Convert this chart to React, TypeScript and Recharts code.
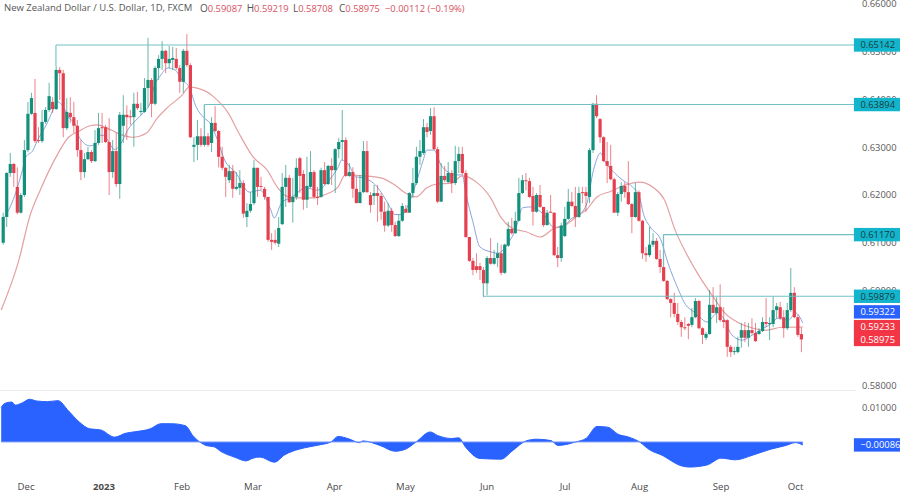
import { ComposedChart, Bar, Line, Area, XAxis, YAxis, ReferenceLine } from 'recharts';

const opens = [
  .6100,.6154,.6246,.6265,.6217,.6163,.6200,.6294,.6370,.6372,
  .6315,.6313,.6353,.6378,.6395,.6380,.6462,.6455,.6340,.6372,
  .6363,.6345,.6294,.6248,.6275,.6290,.6271,.6309,.6342,.6342,
  .6311,.6248,.6292,.6223,.6345,.6368,.6365,.6363,.6391,.6374,
  .6374,.6424,.6441,.6391,.6466,.6485,.6502,.6476,.6483,.6485,
  .6466,.6437,.6502,.6472,.6301,.6305,.6323,.6305,.6323,.6309,
  .6351,.6334,.6280,.6257,.6231,.6250,.6213,.6215,.6225,.6154,
  .6167,.6183,.6257,.6219,.6213,.6196,.6106,.6106,.6098,.6139,
  .6217,.6236,.6185,.6196,.6277,.6244,.6190,.6217,.6248,.6196,
  .6196,.6252,.6223,.6261,.6252,.6296,.6311,.6315,.6240,.6248,
  .6213,.6183,.6206,.6292,.6200,.6198,.6204,.6198,.6165,.6136,
  .6167,.6137,.6114,.6146,.6171,.6163,.6204,.6225,.6280,.6288,
  .6342,.6334,.6365,.6296,.6186,.6240,.6227,.6246,.6225,.6271,
  .6286,.6246,.6112,.6062,.6051,.6051,.6043,.6015,.6068,.6056,
  .6068,.6078,.6037,.6094,.6129,.6120,.6146,.6204,.6231,.6229,
  .6198,.6165,.6200,.6175,.6137,.6165,.6163,.6074,.6068,.6114,
  .6150,.6186,.6177,.6154,.6206,.6206,.6196,.6294,.6391,.6359,
  .6321,.6271,.6261,.6233,.6163,.6202,.6219,.6206,.6181,.6154,
  .6206,.6146,.6078,.6074,.6096,.6104,.6066,.6049,.6020,.5982,
  .5974,.5951,.5934,.5923,.5930,.5928,.5944,.5978,.5921,.5901,
  .5909,.5970,.5953,.5965,.5938,.5938,.5882,.5871,.5871,.5901,
  .5917,.5901,.5917,.5911,.5909,.5915,.5934,.5930,.5930,.5959,
  .5965,.5944,.5921,.5959,.5995,.5944,.59087,
];

const highs = [
  .6163,.6248,.6288,.6267,.6258,.6204,.6315,.6395,.6414,.6443,
  .6342,.6378,.6384,.6435,.6405,.6470,.6468,.6462,.6403,.6405,
  .6395,.6357,.6315,.6288,.6301,.6294,.6336,.6372,.6372,.6347,
  .6361,.6315,.6330,.6374,.6409,.6388,.6378,.6414,.6416,.6393,
  .6445,.6529,.6445,.6470,.6493,.6522,.6504,.6512,.6510,.6508,
  .6472,.6506,.6537,.6476,.6321,.6357,.6340,.6388,.6330,.6363,
  .6386,.6336,.6301,.6258,.6263,.6263,.6248,.6252,.6231,.6183,
  .6206,.6273,.6257,.6238,.6217,.6196,.6120,.6127,.6154,.6246,
  .6263,.6242,.6236,.6277,.6280,.6252,.6280,.6292,.6252,.6217,
  .6257,.6269,.6263,.6277,.6298,.6319,.6378,.6321,.6267,.6258,
  .6238,.6242,.6313,.6313,.6206,.6221,.6221,.6204,.6186,.6183,
  .6173,.6144,.6159,.6183,.6179,.6206,.6257,.6301,.6315,.6359,
  .6351,.6382,.6384,.6301,.6267,.6261,.6269,.6252,.6303,.6301,
  .6301,.6252,.6112,.6068,.6078,.6058,.6049,.6072,.6110,.6085,
  .6100,.6096,.6098,.6144,.6152,.6165,.6236,.6242,.6246,.6236,
  .6217,.6204,.6221,.6175,.6169,.6200,.6163,.6091,.6142,.6175,
  .6213,.6206,.6217,.6217,.6217,.6217,.6298,.6393,.6409,.6361,
  .6323,.6311,.6305,.6236,.6206,.6227,.6227,.6271,.6183,.6225,
  .6210,.6148,.6091,.6133,.6120,.6110,.6085,.6117,.6022,.5984,
  .5995,.5974,.5938,.5944,.5932,.5963,.5984,.5980,.5923,.5913,
  .6001,.6007,.5986,.6013,.5965,.5940,.5886,.5882,.5903,.5932,
  .5934,.5932,.5942,.5932,.5921,.5944,.5984,.5944,.5988,.5974,
  .5976,.5959,.5974,.6047,.6007,.5949,.59219,
];

const lows = [
  .6096,.6133,.6238,.6217,.6159,.6161,.6196,.6290,.6368,.6309,
  .6309,.6309,.6349,.6374,.6372,.6378,.6399,.6321,.6336,.6351,
  .6330,.6280,.6231,.6236,.6273,.6267,.6269,.6305,.6309,.6309,
  .6200,.6236,.6217,.6192,.6309,.6315,.6347,.6301,.6378,.6368,
  .6372,.6384,.6363,.6388,.6441,.6462,.6455,.6466,.6462,.6462,
  .6414,.6414,.6468,.6319,.6269,.6273,.6301,.6301,.6301,.6290,
  .6332,.6258,.6252,.6196,.6225,.6194,.6210,.6200,.6152,.6133,
  .6163,.6179,.6196,.6210,.6190,.6102,.6085,.6096,.6091,.6137,
  .6175,.6183,.6142,.6190,.6204,.6169,.6173,.6215,.6194,.6179,
  .6194,.6221,.6221,.6221,.6204,.6277,.6273,.6238,.6238,.6194,
  .6183,.6183,.6204,.6204,.6163,.6179,.6144,.6148,.6123,.6133,
  .6123,.6112,.6112,.6144,.6163,.6163,.6194,.6221,.6263,.6284,
  .6321,.6326,.6294,.6183,.6186,.6227,.6225,.6204,.6221,.6246,
  .6242,.6110,.6060,.6032,.6037,.6022,.5986,.5990,.6054,.6054,
  .6049,.6032,.6035,.6091,.6117,.6119,.6144,.6202,.6210,.6194,
  .6136,.6163,.6173,.6133,.6136,.6163,.6072,.6049,.6060,.6112,
  .6148,.6175,.6133,.6152,.6183,.6165,.6183,.6288,.6361,.6309,
  .6269,.6225,.6231,.6163,.6156,.6186,.6194,.6179,.6120,.6152,
  .6144,.6066,.6060,.6070,.6091,.6064,.6037,.6018,.5980,.5944,
  .5944,.5928,.5903,.5917,.5898,.5923,.5942,.5919,.5888,.5896,
  .5907,.5953,.5932,.5934,.5921,.5861,.5861,.5865,.5869,.5880,
  .5892,.5882,.5907,.5892,.5907,.5913,.5923,.5896,.5923,.5942,
  .5938,.5901,.5917,.5955,.5942,.5903,.58708,
];

const closes = [
  .6154,.6246,.6265,.6246,.6163,.6200,.6294,.6370,.6403,.6313,
  .6313,.6353,.6378,.6407,.6380,.6462,.6455,.6340,.6374,.6363,
  .6345,.6294,.6248,.6275,.6290,.6271,.6309,.6340,.6340,.6311,
  .6248,.6292,.6223,.6368,.6368,.6363,.6363,.6391,.6382,.6376,
  .6424,.6441,.6391,.6466,.6485,.6502,.6476,.6485,.6487,.6466,
  .6437,.6502,.6472,.6321,.6305,.6323,.6305,.6323,.6305,.6351,
  .6334,.6280,.6257,.6238,.6250,.6213,.6217,.6225,.6161,.6167,
  .6181,.6257,.6217,.6217,.6196,.6106,.6102,.6100,.6131,.6217,
  .6236,.6185,.6196,.6257,.6240,.6190,.6219,.6248,.6196,.6194,
  .6252,.6223,.6261,.6252,.6296,.6311,.6315,.6240,.6248,.6213,
  .6183,.6206,.6292,.6206,.6179,.6204,.6198,.6165,.6136,.6167,
  .6137,.6114,.6146,.6177,.6163,.6204,.6225,.6280,.6292,.6342,
  .6332,.6365,.6296,.6186,.6240,.6231,.6246,.6225,.6271,.6286,
  .6246,.6112,.6062,.6043,.6043,.6043,.6015,.6068,.6056,.6068,
  .6078,.6037,.6096,.6129,.6120,.6146,.6204,.6231,.6229,.6196,
  .6165,.6200,.6175,.6137,.6163,.6163,.6074,.6068,.6136,.6150,
  .6186,.6177,.6154,.6204,.6204,.6198,.6294,.6391,.6365,.6321,
  .6271,.6261,.6233,.6163,.6202,.6219,.6206,.6181,.6154,.6206,
  .6146,.6078,.6074,.6096,.6104,.6066,.6049,.6020,.5982,.5974,
  .5951,.5934,.5923,.5921,.5926,.5944,.5978,.5921,.5907,.5909,
  .5970,.5953,.5965,.5938,.5934,.5882,.5871,.5873,.5882,.5917,
  .5901,.5917,.5911,.5894,.5915,.5934,.5930,.5932,.5959,.5967,
  .5942,.5921,.5959,.5995,.5944,.5907,.58975,
];

// moving averages and oscillator, read at [bar index, value] where the curve bends
const fastMa = [
  [1,.6154],[3,.6183],[6,.6252],[7,.6280],[9,.6294],[10,.6311],[13,.6351],[15,.6384],[16,.6395],[18,.6378],
  [19,.6363],[21,.6347],[22,.6321],[25,.6303],[27,.6309],[28,.6325],[29,.6325],[30,.6315],[32,.6295],[33,.6300],
  [36,.6340],[40,.6372],[42,.6393],[43,.6424],[45,.6451],[47,.6466],[49,.6462],[51,.6441],[53,.6426],[55,.6384],
  [57,.6363],[59,.6349],[61,.6315],[63,.6273],[66,.6248],[70,.6206],[73,.6210],[76,.6169],[77,.6152],[79,.6183],
  [82,.6196],[86,.6215],[89,.6210],[93,.6236],[95,.6258],[96,.6273],[98,.6263],[100,.6238],[102,.6236],[106,.6217],
  [109,.6183],[111,.6159],[113,.6159],[115,.6183],[117,.6225],[119,.6273],[120,.6294],[122,.6294],[124,.6263],[126,.6248],
  [128,.6242],[130,.6242],[131,.6204],[133,.6144],[135,.6091],[138,.6081],[140,.6078],[143,.6100],[145,.6127],[147,.6173],
  [149,.6175],[153,.6159],[156,.6131],[159,.6137],[161,.6152],[162,.6154],[165,.6179],[167,.6252],[169,.6288],[170,.6273],
  [173,.6246],[176,.6227],[178,.6217],[180,.6196],[181,.6163],[183,.6133],[186,.6106],[188,.6058],[191,.6001],[193,.5970],
  [195,.5957],[197,.5944],[199,.5934],[202,.5953],[204,.5938],[206,.5907],[209,.5896],[211,.5903],[214,.5917],[217,.5930],
  [219,.5942],[222,.5938],[224,.5953],[226,.59322],
];

const slowMa = [
  [0,.5959],[5,.6064],[8,.6154],[11,.6210],[15,.6273],[19,.6321],[22,.6334],[25,.6345],[27,.6347],[31,.6336],
  [34,.6326],[37,.6321],[41,.6330],[44,.6361],[47,.6384],[51,.6409],[53,.6426],[58,.6416],[60,.6405],[64,.6372],
  [67,.6330],[71,.6280],[75,.6252],[78,.6215],[81,.6196],[84,.6194],[88,.6194],[91,.6200],[95,.6217],[97,.6242],
  [102,.6240],[107,.6236],[111,.6221],[114,.6204],[117,.6196],[120,.6215],[123,.6223],[127,.6225],[130,.6240],[134,.6227],
  [138,.6194],[141,.6152],[144,.6131],[148,.6123],[152,.6112],[156,.6131],[159,.6137],[163,.6159],[165,.6169],[168,.6196],
  [172,.6208],[176,.6221],[180,.6227],[184,.6215],[187,.6190],[190,.6127],[193,.6080],[197,.6028],[201,.5984],[204,.5953],
  [208,.5932],[212,.5921],[216,.5917],[220,.5923],[226,.59233],
];

const oscillator = [
  [0,.0100],[1,.0112],[3,.0116],[4,.0107],[6,.0114],[8,.0124],[10,.0119],[13,.0117],[16,.0120],[19,.0090],
  [22,.0058],[25,.0038],[28,.0035],[32,.0014],[35,.0025],[38,.0030],[42,.0038],[45,.0053],[48,.0053],[52,.0047],
  [54,.0019],[56,0],[58,-.0011],[60,-.0014],[62,-.0028],[66,-.0045],[69,-.0055],[71,-.0047],[73,-.0044],[77,-.0059],
  [80,-.0037],[84,-.0021],[87,-.0014],[90,-.0008],[93,0],[95,.0016],[98,.0009],[101,-.0002],[102,.0003],[107,-.0011],
  [111,-.0027],[114,-.0021],[117,0],[121,.0029],[123,.0019],[127,.0010],[129,.0012],[131,-.0016],[135,-.0048],[141,-.0050],
  [144,-.0027],[148,.0003],[151,.0008],[155,.0004],[157,-.0010],[162,0],[165,.0011],[168,.0045],[171,.0043],[174,.0022],
  [177,.0014],[180,0],[183,-.0024],[186,-.0037],[192,-.0070],[194,-.0073],[199,-.0067],[203,-.0047],[207,-.0052],[212,-.0038],
  [217,-.0021],[221,-.0011],[224,-.0002],[226,-.00086],
];

const priceTicks = [0.58, 0.59, 0.6, 0.61, 0.62, 0.63, 0.64, 0.65, 0.66];
const oscTicks = [0.01];
const monthBars = [7, 29, 51, 71, 94, 114, 137, 159, 180, 203, 224];
const monthLabels = ['Dec', '2023', 'Feb', 'Mar', 'Apr', 'May', 'Jun', 'Jul', 'Aug', 'Sep', 'Oct'];

// horizontal levels: price, bar the ray starts at, price where its stem ends
const rayLevels = [0.65142, 0.63894, 0.6117, 0.59879];
const rayBars = [15, 57, 187, 136];
const rayStems = [0.647, 0.6323, 0.6049, 0.6015];

const legendParts = ['O', 'H', 'L', 'C', ''];
const legendValues = ['0.59087', '0.59219', '0.58708', '0.58975', '−0.00112 (−0.19%)'];
const legendLefts = [200, 246.7, 293, 339, 385];

const TOTAL_BARS = 242;
const PRICE_DOMAIN = [0.57916, 0.66084];
const FONT = '"Open Sans", sans-serif';
const UP = '#12907c';
const DOWN = '#e4404f';
const TEAL = '#72c0c5';

const table = Array.from({ length: TOTAL_BARS }, (_, i) => ({
  i,
  open: opens[i],
  high: highs[i],
  low: lows[i],
  close: closes[i],
  fast: null as number | null,
  slow: null as number | null,
  osc: null as number | null,
}));
fastMa.forEach(([i, v]) => { table[i].fast = v; });
slowMa.forEach(([i, v]) => { table[i].slow = v; });
oscillator.forEach(([i, v]) => { table[i].osc = v; });

function Candle(props: any) {
  const { x, y, width, height, payload } = props;
  if (payload.open === undefined) return null;
  const color = payload.close >= payload.open ? UP : DOWN;
  const top = Math.min(y, y + height);
  const span = Math.abs(height);
  const perUnit = span / (payload.high - payload.low);
  const bodyTop = top + (payload.high - Math.max(payload.open, payload.close)) * perUnit;
  const bodyH = Math.abs(payload.open - payload.close) * perUnit;
  const cx = x + width / 2;
  return (
    <g>
      <line x1={cx} x2={cx} y1={top} y2={top + span} stroke={color} strokeOpacity={0.65} strokeWidth={1} />
      <rect x={cx - 1.6} y={bodyTop} width={3.2} height={Math.max(bodyH, 1)} fill={color} />
    </g>
  );
}

function PriceTag({ viewBox, text, bg, fg, shift = 0 }: any) {
  const x = viewBox.x + viewBox.width - 2;
  const y = viewBox.y + shift;
  return (
    <g>
      <rect x={x} y={y - 6.7} width={48} height={13.4} fill={bg} />
      <text x={x + 6.5} y={y + 3.3} fontSize={9.4} fontFamily={FONT} fill={fg}>{text}</text>
    </g>
  );
}

function MonthTick({ x, y, payload }: any) {
  const label = monthLabels[monthBars.indexOf(payload.value)];
  return (
    <text x={x} y={y + 13} textAnchor="middle" fontSize={9.6} fontFamily={FONT} fill="#4a4a4a" fontWeight={label === '2023' ? 700 : 400}>
      {label}
    </text>
  );
}

const axisText = { fontSize: 9.4, fontFamily: FONT, fill: '#5a5a5a' };

export default function App() {
  return (
    <div style={{ position: 'fixed', left: 0, top: 0, width: 900, height: 494, background: '#fff', overflow: 'hidden' }}>
      <div style={{ position: 'absolute', left: 4, top: 1, fontSize: 9.5, fontFamily: FONT, color: '#555', whiteSpace: 'pre', lineHeight: '14px' }}>
        New Zealand Dollar / U.S. Dollar, 1D, FXCM
      </div>
      {legendValues.map((value, k) => (
        <div key={value} style={{ position: 'absolute', left: legendLefts[k], top: 1, fontSize: 9.4, fontFamily: FONT, color: '#d9505e', whiteSpace: 'pre', lineHeight: '14px' }}>
          <span style={{ color: '#555', fontSize: 10 }}>{legendParts[k]}</span>
          {value}
        </div>
      ))}

      {/* moving averages go underneath the candles */}
      <ComposedChart
        width={900}
        height={394}
        data={table}
        margin={{ top: 0, right: 44.1, bottom: 4, left: 1.2 }}
        style={{ position: 'absolute', left: 0, top: 0 }}
      >
        <XAxis dataKey="i" type="category" hide interval={0} />
        <YAxis hide type="number" domain={PRICE_DOMAIN} allowDataOverflow />
        <Line dataKey="fast" stroke="#8aa6dc" strokeWidth={1} dot={false} connectNulls type="monotone" isAnimationActive={false} />
        <Line dataKey="slow" stroke="#e4a0a3" strokeWidth={1.2} dot={false} connectNulls type="monotone" isAnimationActive={false} />
      </ComposedChart>

      <ComposedChart
        width={900}
        height={394}
        data={table}
        margin={{ top: 0, right: 0, bottom: 4, left: 1.2 }}
        barCategoryGap={0}
        style={{ position: 'absolute', left: 0, top: 0 }}
      >
        <XAxis dataKey="i" type="category" hide interval={0} />
        <YAxis
          orientation="right"
          width={44.1}
          type="number"
          domain={PRICE_DOMAIN}
          allowDataOverflow
          ticks={priceTicks}
          interval={0}
          tickFormatter={(v: number) => v.toFixed(5)}
          tick={axisText}
          tickLine={false}
          axisLine={false}
          tickMargin={0}
        />
        <Bar dataKey={(d: any) => (d.open === undefined ? null : [d.low, d.high])} shape={<Candle />} isAnimationActive={false} />
        {rayLevels.map((level, k) => (
          <ReferenceLine key={'ray' + k} segment={[{ x: rayBars[k], y: level }, { x: TOTAL_BARS - 1, y: level }]} stroke={TEAL} strokeWidth={1.1} />
        ))}
        {rayLevels.map((level, k) => (
          <ReferenceLine key={'stem' + k} segment={[{ x: rayBars[k], y: level }, { x: rayBars[k], y: rayStems[k] }]} stroke={TEAL} strokeWidth={1.1} />
        ))}
      </ComposedChart>

      {/* price tags sit in their own layer so the tick labels stay underneath */}
      <ComposedChart
        width={900}
        height={394}
        data={table}
        margin={{ top: 0, right: 44.1, bottom: 4, left: 1.2 }}
        style={{ position: 'absolute', left: 0, top: 0 }}
      >
        <XAxis dataKey="i" type="category" hide interval={0} />
        <YAxis hide type="number" domain={PRICE_DOMAIN} allowDataOverflow />
        {rayLevels.map((level) => (
          <ReferenceLine
            key={'tag' + level}
            y={level}
            stroke="none"
            label={<PriceTag text={level.toFixed(5)} bg="#12b5cb" fg="#1d3a40" />}
          />
        ))}
        <ReferenceLine y={0.59322} stroke="none" label={<PriceTag text="0.59322" bg="#2962ff" fg="#fff" shift={-11} />} />
        <ReferenceLine y={0.59233} stroke="none" label={<PriceTag text="0.59233" bg="#f23645" fg="#fff" shift={-0.5} />} />
        <ReferenceLine y={0.58975} stroke="none" label={<PriceTag text="0.58975" bg="#f23645" fg="#fff" />} />
      </ComposedChart>

      <div style={{ position: 'absolute', left: 0, top: 390, width: 856, height: 1, background: '#ececec' }} />

      <ComposedChart
        width={900}
        height={104}
        data={table}
        margin={{ top: 1, right: 0, bottom: 0, left: 1.2 }}
        style={{ position: 'absolute', left: 0, top: 390 }}
      >
        <XAxis
          dataKey="i"
          type="category"
          ticks={monthBars}
          interval={0}
          height={23}
          tick={<MonthTick />}
          tickLine={false}
          axisLine={false}
          tickMargin={0}
        />
        <YAxis
          orientation="right"
          width={44.1}
          type="number"
          domain={[-0.00844, 0.0148]}
          allowDataOverflow
          ticks={oscTicks}
          interval={0}
          tickFormatter={(v: number) => v.toFixed(5)}
          tick={axisText}
          tickLine={false}
          axisLine={false}
          tickMargin={0}
        />
        <Area dataKey="osc" stroke="#2962ff" strokeWidth={1} fill="#2962ff" fillOpacity={1} connectNulls type="monotone" baseValue={0} dot={false} isAnimationActive={false} />
        <ReferenceLine segment={[{ x: 0, y: 0 }, { x: 226, y: 0 }]} stroke="#7d9dfb" strokeWidth={1} />
        <ReferenceLine y={-0.00086} stroke="none" label={<PriceTag text="−0.00086" bg="#2962ff" fg="#fff" />} />
      </ComposedChart>
    </div>
  );
}
